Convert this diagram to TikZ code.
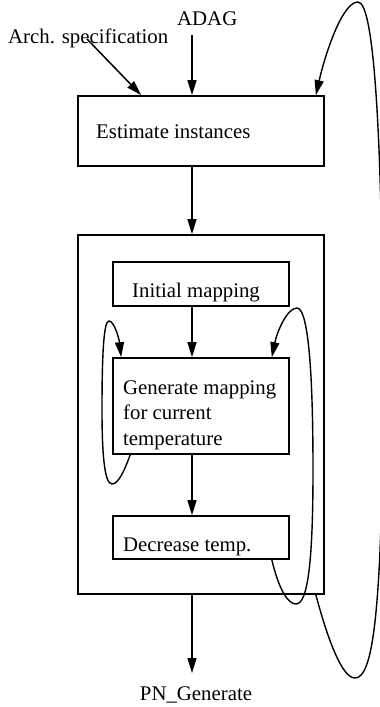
\documentclass[tikz,border=0pt]{standalone}
\usepackage{fontspec}
\setmainfont{Liberation Serif}
\usetikzlibrary{arrows.meta,calc}

\tikzset{
  box/.style={draw, line width=1.7pt, rectangle, inner sep=0pt},
  lbl/.style={inner sep=0pt, font=\fontsize{20.8}{25.5}\selectfont},
  flow/.style={line width=1.5pt, -{Triangle[length=15pt,width=9pt]}},
  loop/.style={line width=1.4pt, -{Triangle[length=15pt,width=9pt]}},
}

\begin{document}
\begin{tikzpicture}[x=1pt, y=-1pt]
\useasboundingbox (0,0) rectangle (380,707);

% process boxes
\node[box, minimum width=246pt, minimum height=70pt]  (est)   at (201,131)   {};
\node[box, minimum width=246pt, minimum height=359pt] (outer) at (201,414.5) {};
\node[box, minimum width=176pt, minimum height=44pt]  (init)  at (201,284)   {};
\node[box, minimum width=176pt, minimum height=96pt]  (gen)   at (201,406)   {};
\node[box, minimum width=176pt, minimum height=43pt]  (dec)   at (201,537.5) {};

% box captions
\node[lbl, anchor=base west] (est-t)  at (96,138)  {Estimate instances};
\node[lbl, anchor=base west] (init-t) at (132,297) {Initial mapping};
\node[lbl, anchor=base west] (gen-t1) at (123,394) {Generate mapping};
\node[lbl, anchor=base west] (gen-t2) at (123,419.5) {for current};
\node[lbl, anchor=base west] (gen-t3) at (123,445) {temperature};
\node[lbl, anchor=base west] (dec-t)  at (123,551) {Decrease temp.};

% inputs and output
\node[lbl, anchor=base west] (arch) at (8,43)  {Arch. specification};
\node[lbl, anchor=base west] (adag) at (177,25) {ADAG};
\node[lbl, anchor=base] (pn) at (196,700) {PN\_Generate};

\coordinate (mid)    at (192,0);
\coordinate (archin) at (87,39);
\coordinate (adagin) at (192,35);
\coordinate (pnin)   at (192,673);

% main flow
\draw[flow] (archin) -- ($(est.north west)+(64,0)$);
\draw[flow] (adagin) -- (est.north -| mid);
\draw[flow] (est.south -| mid) -- (outer.north -| mid);
\draw[flow] (init.south -| mid) -- (gen.north -| mid);
\draw[flow] (gen.south -| mid) -- (dec.north -| mid);
\draw[flow] (outer.south -| mid) -- (pnin);

% loop: generate mapping repeats at the same temperature
\draw[loop] ($(gen.south west)+(18,0)$)
  .. controls (124,472) and (118,484) .. (112,484)
  .. controls (104,484) and (102,450) .. (102,410)
  .. controls (102,350) and (104,321) .. (109,321)
  .. controls (114,321) and (119,338) .. ($(gen.north west)+(9,0)$);

% loop: after decreasing the temperature, generate again
\draw[loop] ($(dec.south east)+(-18,0)$)
  .. controls (279,590) and (288,604) .. (296,604)
  .. controls (308,604) and (313,560) .. (313,470)
  .. controls (313,350) and (306,308) .. (297,308)
  .. controls (287,308) and (277,332) .. ($(gen.north east)+(-18,0)$);

% outer loop back to instance estimation
\draw[loop] ($(outer.south east)+(-9,0)$)
  .. controls (328,640) and (342,678) .. (355,678)
  .. controls (372,678) and (382,620) .. (383,400)
  .. controls (383,150) and (375,2) .. (358,2)
  .. controls (342,2) and (325,55) .. ($(est.north east)+(-9,0)$);
\end{tikzpicture}
\end{document}
